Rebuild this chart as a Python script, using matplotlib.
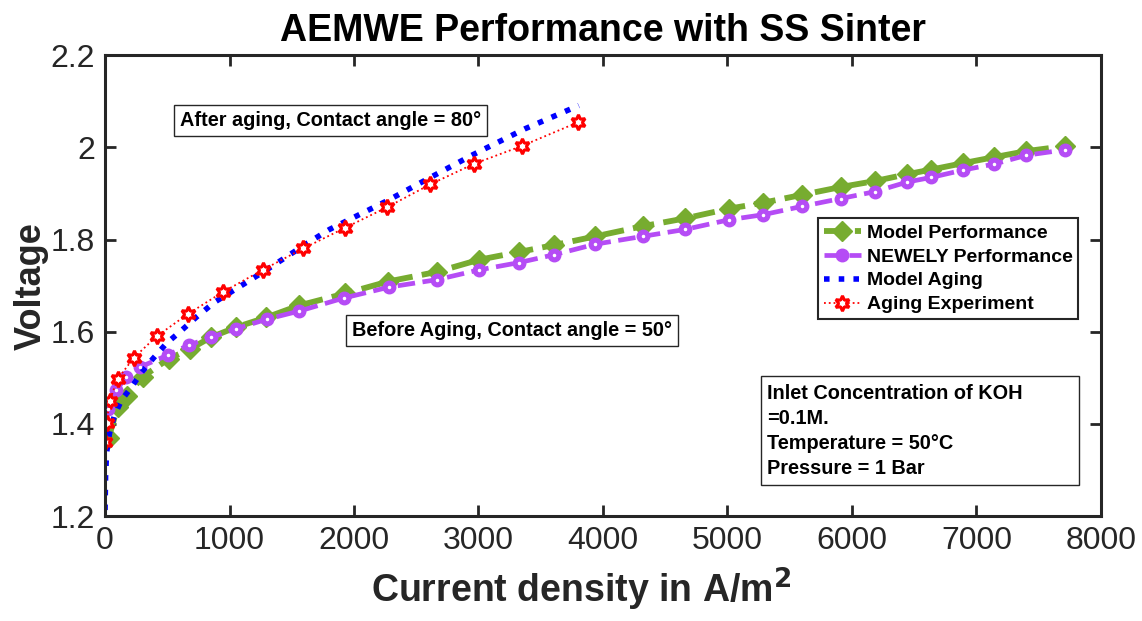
import numpy as np
import matplotlib
matplotlib.use('Agg')
import matplotlib.pyplot as plt
from matplotlib.patches import Rectangle

plt.rcParams['font.family'] = ['Liberation Sans', 'DejaVu Sans']

# Model Performance (green)
i_model = [28, 100, 173, 301, 510, 686, 850, 1055, 1295, 1559, 1928, 2274, 2667, 3001, 3324,
           3605, 3939, 4320, 4660, 5012, 5287, 5598, 5909, 6184, 6446, 6639, 6896, 7145, 7402, 7715]
v_model = [1.369, 1.436, 1.460, 1.502, 1.541, 1.563, 1.588, 1.610, 1.631, 1.657, 1.683, 1.709, 1.730,
           1.756, 1.773, 1.788, 1.807, 1.829, 1.846, 1.867, 1.880, 1.897, 1.914, 1.927, 1.942, 1.952,
           1.966, 1.979, 1.992, 2.003]

# NEWELY Performance (purple)
i_new = [20, 90, 170, 277, 502, 671, 855, 1048, 1297, 1562, 1916, 2285, 2667, 3001, 3324,
         3605, 3939, 4320, 4660, 5012, 5287, 5598, 5909, 6184, 6446, 6639, 6896, 7145, 7402, 7715]
v_new = [1.432, 1.473, 1.502, 1.523, 1.549, 1.571, 1.588, 1.606, 1.627, 1.645, 1.673, 1.697, 1.713,
         1.734, 1.750, 1.767, 1.790, 1.807, 1.822, 1.843, 1.854, 1.872, 1.889, 1.904, 1.925, 1.935,
         1.951, 1.964, 1.983, 1.995]

# Model Aging (blue)
i_aging = [0, 4, 12, 36, 76, 133, 213, 293, 373, 494, 598, 735, 879, 1290, 1612, 1803,
           2272, 2580, 2954, 3370, 3806]
v_aging = [1.213, 1.285, 1.337, 1.380, 1.419, 1.452, 1.480, 1.512, 1.538, 1.575, 1.599, 1.632,
           1.664, 1.733, 1.790, 1.822, 1.885, 1.930, 1.984, 2.040, 2.091]

# Aging Experiment (red)
i_exp = [0, 12, 36, 100, 229, 414, 663, 945, 1265, 1594, 1924, 2264, 2614, 2960, 3347, 3803]
v_exp = [1.361, 1.402, 1.449, 1.497, 1.543, 1.590, 1.638, 1.686, 1.734, 1.781, 1.825, 1.870,
         1.920, 1.964, 2.003, 2.055]

info_lines = ['Inlet Concentration of KOH', '=0.1M.', 'Temperature = 50\u00b0C', 'Pressure = 1 Bar']

green = '#77AC30'
purple = '#B54CF5'
dark = '#262626'

fig = plt.figure(figsize=(11.42, 6.21), dpi=100)
ax = fig.add_axes([0.092, 0.169, 0.872, 0.742])

ax.plot(i_model, v_model, '--', color=green, lw=4.2, marker='D', ms=10,
        mfc=green, mec=green, label='Model Performance')
ax.plot(i_new, v_new, '--', color=purple, lw=3.4, marker='o', ms=9,
        mfc=purple, mec=purple, label='NEWELY Performance')
ax.plot(i_new, v_new, 'o', ms=1.5, color='white', mec='white', zorder=3)
ax.plot(i_aging, v_aging, ':', color='#0000FF', lw=4, label='Model Aging')
ax.plot(i_exp, v_exp, ':', color='#FF0000', lw=1.3, marker=(6, 1, 0), ms=11,
        mfc='white', mec='#FF0000', mew=2.2, label='Aging Experiment')

ax.set_xlim(0, 8000)
ax.set_ylim(1.2, 2.2)
ax.set_xticks(np.arange(0, 8001, 1000))
ax.set_yticks([1.2, 1.4, 1.6, 1.8, 2.0, 2.2])
ax.set_yticklabels(['1.2', '1.4', '1.6', '1.8', '2', '2.2'])
ax.tick_params(direction='in', length=8, width=2, labelsize=23, top=True, right=True,
               colors=dark, labelcolor=dark, pad=7)
for s in ax.spines.values():
    s.set_linewidth(2.2)
    s.set_color(dark)

ax.set_title('AEMWE Performance with SS Sinter', fontsize=27, fontweight='bold', pad=10)
ax.set_xlabel('Current density in A/m$^{\\mathbf{2}}$', fontsize=27, fontweight='bold',
              color=dark)
ax.xaxis.set_label_coords(0.478, -0.108)
ax.set_ylabel('Voltage', fontsize=26, fontweight='bold', color=dark)
ax.yaxis.set_label_coords(-0.057, 0.5)

leg = ax.legend(loc='upper left', bbox_to_anchor=(0.716, 0.646),
                prop={'weight': 'bold', 'size': 14}, fancybox=False, framealpha=1,
                edgecolor=dark, handlelength=1.9, handletextpad=0.3,
                borderpad=0.3, labelspacing=0.32, borderaxespad=0)
leg.get_frame().set_linewidth(1.5)

box = dict(boxstyle='square,pad=0.3', fc='white', ec=dark, lw=1)
ax.text(0.075, 0.859, 'After aging, Contact angle = 80\u00b0', transform=ax.transAxes,
        fontsize=14.3, fontweight='bold', va='center', ha='left', bbox=box)
ax.text(0.248, 0.403, 'Before Aging, Contact angle = 50\u00b0', transform=ax.transAxes,
        fontsize=14.3, fontweight='bold', va='center', ha='left', bbox=box)

# info box
ax.add_patch(Rectangle((0.659, 0.067), 0.319, 0.236, transform=ax.transAxes,
                       fc='white', ec=dark, lw=1, zorder=5))
for k, line in enumerate(info_lines):
    ax.text(0.665, 0.266 - k * 0.054, line, transform=ax.transAxes, fontsize=14.3,
            fontweight='bold', va='center', ha='left', zorder=6)

fig.savefig('out.png', dpi=100)
